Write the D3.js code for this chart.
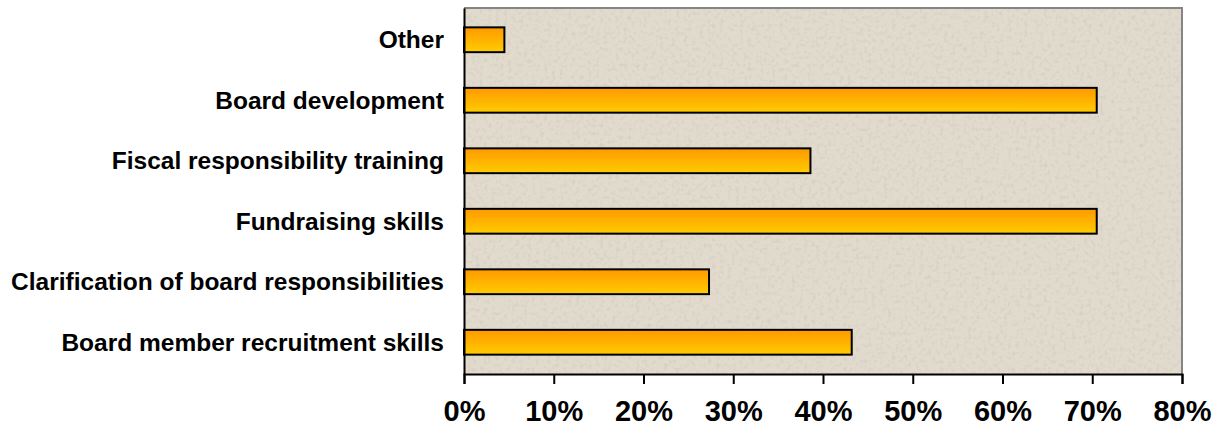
<!DOCTYPE html>
<html>
<head>
<meta charset="utf-8">
<script src="https://cdn.jsdelivr.net/npm/d3@7"></script>
<style>
  body { margin: 0; background: #fff; }
  svg { display: block; font-family: Arial, "Liberation Sans", sans-serif; }
</style>
</head>
<body>
<svg width="1224" height="437"></svg>
<script>
// data, top to bottom
var categories = ["Other", "Board development", "Fiscal responsibility training",
  "Fundraising skills", "Clarification of board responsibilities", "Board member recruitment skills"];
var values = [4.5, 70.5, 38.6, 70.5, 27.3, 43.2];
var tickValues = [0, 10, 20, 30, 40, 50, 60, 70, 80];

var margin = {top: 8, right: 42, bottom: 63, left: 464},
    width = 1224 - margin.left - margin.right,
    height = 437 - margin.top - margin.bottom;

var svg = d3.select("svg");

// fills: bar gradient + paper texture
var defs = svg.append("defs");
var grad = defs.append("linearGradient").attr("id", "barGrad")
    .attr("x1", 0).attr("y1", 0).attr("x2", 0).attr("y2", 1);
grad.append("stop").attr("offset", "0%").attr("stop-color", "#ff9900");
grad.append("stop").attr("offset", "100%").attr("stop-color", "#ffcc00");

var f = defs.append("filter").attr("id", "paper")
    .attr("x", 0).attr("y", 0).attr("width", "100%").attr("height", "100%");
f.append("feTurbulence").attr("type", "fractalNoise").attr("baseFrequency", 0.25)
    .attr("numOctaves", 2).attr("seed", 4).attr("result", "noise");
f.append("feColorMatrix").attr("in", "noise").attr("type", "matrix")
    .attr("values", "0 0 0 0 0.6  0 0 0 0 0.57  0 0 0 0 0.52  0 0 0 -1.6 0.82")
    .attr("result", "spots");
f.append("feComposite").attr("in", "spots").attr("in2", "SourceGraphic").attr("operator", "in")
    .attr("result", "clipped");
f.append("feMerge").selectAll("feMergeNode").data(["SourceGraphic", "clipped"])
    .enter().append("feMergeNode").attr("in", function (d) { return d; });

var g = svg.append("g")
    .attr("transform", "translate(" + margin.left + "," + margin.top + ")");

var x = d3.scaleLinear().domain([0, 80]).range([0, width]);
var y = d3.scaleBand().domain(categories).range([0, height]).paddingInner(0.59).paddingOuter(0.32);

// plot background
g.append("rect")
    .attr("width", width).attr("height", height)
    .attr("fill", "#e1dacd")
    .attr("filter", "url(#paper)");
// top/right border
g.append("path")
    .attr("d", "M0,0H" + width + "V" + height)
    .attr("fill", "none").attr("stroke", "#858585").attr("stroke-width", 2);

// bars
g.selectAll(".bar")
    .data(values)
    .enter().append("rect")
    .attr("class", "bar")
    .attr("x", x(0))
    .attr("y", function (d, i) { return y(categories[i]); })
    .attr("width", function (d) { return x(d) - x(0); })
    .attr("height", y.bandwidth())
    .attr("fill", "url(#barGrad)")
    .attr("stroke", "#000").attr("stroke-width", 2);

// x axis
var xAxis = g.append("g")
    .attr("transform", "translate(0," + height + ")")
    .call(d3.axisBottom(x).tickValues(tickValues).tickSize(10).tickPadding(16)
        .tickFormat(function (d) { return d + "%"; }));
xAxis.select(".domain").attr("stroke", "#000").attr("stroke-width", 2);
xAxis.selectAll(".tick line").attr("stroke", "#000").attr("stroke-width", 2);
xAxis.selectAll("text")
    .attr("fill", "#000").style("font-size", "29px").style("font-weight", "bold")
    .style("font-family", "Arial, 'Liberation Sans', sans-serif");

// y axis
var yAxis = g.append("g")
    .call(d3.axisLeft(y).tickSize(0).tickPadding(20));
yAxis.select(".domain").attr("stroke", "#000").attr("stroke-width", 2);
yAxis.selectAll("text")
    .attr("fill", "#000").attr("dy", "0.35em")
    .style("font-size", "24.5px").style("font-weight", "bold")
    .style("font-family", "Arial, 'Liberation Sans', sans-serif");
</script>
</body>
</html>
